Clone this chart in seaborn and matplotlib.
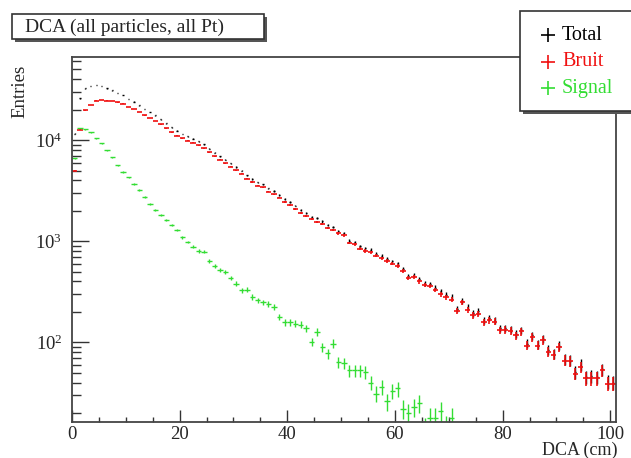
import numpy as np
import pandas as pd
import seaborn as sns
import matplotlib.pyplot as plt
from matplotlib.patches import Rectangle
from matplotlib.lines import Line2D
from matplotlib.ticker import LogLocator, LogFormatterMathtext, MultipleLocator, NullFormatter

# histogram contents, 1 cm bins from 0 to 101 cm
total = [11600, 25900, 32500, 34200, 35000, 34200, 32450, 31050, 29350, 27850,
         25500, 24000, 22100, 20350, 18950, 17550, 16100, 14710, 13440, 12390,
         11490, 10885, 10280, 9700, 9085, 8240, 7466, 6916, 6397, 5880,
         5431, 4977, 4483, 4131, 3810, 3648, 3341, 3124, 2878, 2608,
         2458, 2253, 2050, 1917, 1751, 1687, 1570, 1438, 1387, 1264,
         1202, 1013, 983, 893, 851, 820, 751, 716, 666, 633,
         605, 532, 450, 463, 425, 384, 378, 348, 321, 295,
         283, 216, 257, 223, 193, 202, 164, 174, 165, 138,
         138, 134, 122, 131, 97, 117, 95, 108, 84, 77,
         93, 68, 66, 51, 60, 45, 46, 45, 54, 41, 40]
bruit = [5000, 12700, 19700, 22300, 24600, 24900, 24500, 24300, 23700, 23000,
         21200, 20300, 18900, 17600, 16600, 15500, 14300, 13100, 12000, 11100,
         10400, 9900, 9400, 8900, 8300, 7600, 6900, 6400, 5900, 5450,
         5050, 4650, 4150, 3850, 3550, 3400, 3100, 2900, 2700, 2450,
         2300, 2100, 1900, 1780, 1650, 1560, 1480, 1360, 1290, 1200,
         1140, 960, 930, 840, 800, 780, 720, 680, 640, 600,
         570, 510, 430, 440, 400, 370, 360, 330, 300, 280,
         265, 205, 248, 210, 185, 192, 158, 165, 160, 131,
         132, 130, 117, 128, 93, 112, 93, 105, 80, 75,
         90, 66, 65, 49, 57, 44, 44, 44, 53, 39, 39]
signal = [6600, 13200, 12800, 11900, 10400, 9300, 7950, 6750, 5650, 4850,
          4300, 3700, 3200, 2750, 2350, 2050, 1800, 1610, 1440, 1290,
          1090, 985, 880, 800, 785, 640, 566, 516, 497, 430,
          381, 327, 333, 281, 260, 248, 241, 224, 178, 158,
          158, 153, 150, 137, 101, 127, 90, 78, 97, 64,
          62, 53, 53, 53, 51, 40, 31, 36, 26, 33,
          35, 22, 20, 23, 25, 14, 18, 18, 21, 15,
          18, 11, 9, 13, 8, 10, 6, 9, 5, 7,
          6, 4, 5, 3, 4, 5, 2, 3, 4, 2,
          3, 2, 1, 2, 3, 1, 2, 1, 1, 2, 1]

series_names = ["Total", "Bruit", "Signal"]
series_colors = ["black", "#f01010", "#33dd33"]

W, H = 631, 458

sns.set_theme(style="white")
plt.rcParams["font.family"] = ["Liberation Serif", "DejaVu Serif"]
plt.rcParams["mathtext.fontset"] = "custom"
plt.rcParams["mathtext.rm"] = "Liberation Serif"

df = pd.DataFrame({"dca": np.arange(len(total)) + 0.5,
                   "Total": total, "Bruit": bruit, "Signal": signal})

fig = plt.figure(figsize=(W / 100, H / 100), dpi=100)
fig.patch.set_facecolor("white")
ax = fig.add_axes([72 / W, 1 - 421.7 / H, (615.7 - 72) / W, (421.7 - 57) / H])

half_width = {"Total": 0.12, "Bruit": 0.5, "Signal": 0.5}
line_w = {"Total": 1.0, "Bruit": 1.2, "Signal": 1.0}
for name, color in zip(series_names, series_colors):
    y = df[name].to_numpy(dtype=float)
    err = np.sqrt(y)
    lower = np.minimum(err, y * 0.9)
    ax.errorbar(df["dca"], y, xerr=half_width[name], yerr=[lower, err],
                fmt="none", ecolor=color, elinewidth=line_w[name], capsize=0)

ax.set_yscale("log")
ax.set_xlim(0, 101)
ax.set_ylim(16.4, 66400)

ax.xaxis.set_major_locator(MultipleLocator(20))
ax.xaxis.set_minor_locator(MultipleLocator(5))
ax.yaxis.set_major_locator(LogLocator(base=10))
ax.yaxis.set_major_formatter(LogFormatterMathtext())
ax.yaxis.set_minor_locator(LogLocator(base=10, subs=np.arange(2, 10)))
ax.yaxis.set_minor_formatter(NullFormatter())

ax.tick_params(axis="x", which="major", direction="in", length=8.5, width=1,
               color="#333333", labelsize=13.5, pad=3, top=False)
ax.tick_params(axis="x", which="minor", direction="in", length=3.8, width=1,
               color="#333333", top=False)
ax.tick_params(axis="y", which="major", direction="in", length=12, width=1,
               color="#333333", labelsize=13.5, pad=7, right=False)
ax.tick_params(axis="y", which="minor", direction="in", length=6.5, width=1,
               color="#333333", right=False)
ax.tick_params(which="both", bottom=True, left=True)

for s in ax.spines.values():
    s.set_color("#444444")
    s.set_linewidth(1.3)

# axis titles, ROOT style
fig.text(20 / W, 1 - 65 / H, "Entries", rotation=90, ha="center", va="top",
         fontsize=13.5)
fig.text(617 / W, 1 - 454.5 / H, "DCA (cm)", ha="right", va="baseline",
         fontsize=13)


def box(x0, y0, x1, y1, shadow=3):
    # pixel coords, y from top
    sh = Rectangle(((x0 + shadow) / W, 1 - (y1 + shadow) / H),
                   (x1 - x0) / W, (y1 - y0) / H, transform=fig.transFigure,
                   facecolor="#555555", edgecolor="none", zorder=5)
    fr = Rectangle((x0 / W, 1 - y1 / H), (x1 - x0) / W, (y1 - y0) / H,
                   transform=fig.transFigure, facecolor="white",
                   edgecolor="#333333", linewidth=1.2, zorder=6)
    fig.patches.extend([sh, fr])


# title pave
box(12, 14, 264, 39)
fig.text(25 / W, 1 - 27 / H, "DCA (all particles, all Pt)", ha="left",
         va="center", fontsize=14, zorder=7)

# legend pave
box(520, 11, 660, 111)
for i, (name, color) in enumerate(zip(series_names, series_colors)):
    yy = 1 - (35 + i * 26.7) / H
    fig.lines.append(Line2D([548 / W], [yy], transform=fig.transFigure,
                            marker="+", markersize=10, markeredgewidth=1.2,
                            color=color, zorder=7))
    fig.text(562 / W, yy, name, color=color, ha="left", va="center",
             fontsize=14.5, zorder=7)

fig.savefig("out.png", dpi=100, facecolor="white")
